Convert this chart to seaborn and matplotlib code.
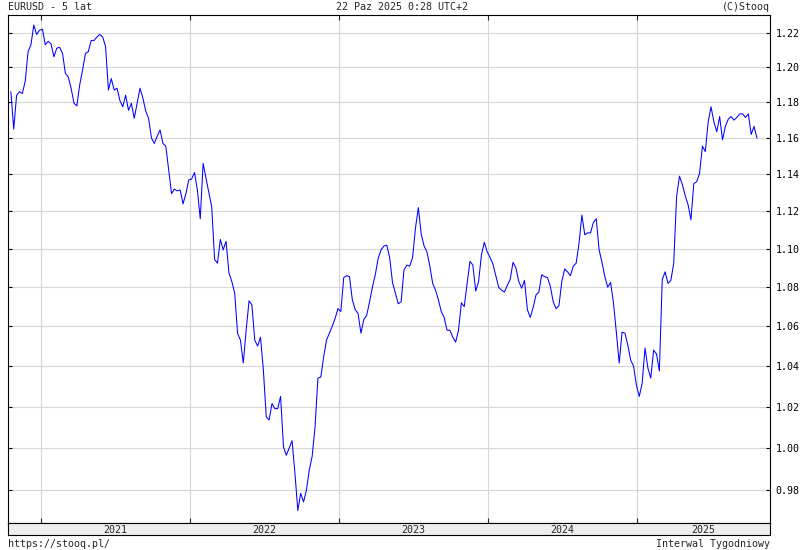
import numpy as np
import pandas as pd
import seaborn as sns
import matplotlib.pyplot as plt
import matplotlib.ticker as mticker

# %%
######################## EURUSD weekly closes ############
close = [1.186, 1.165, 1.184, 1.186, 1.185, 1.192, 1.209, 1.213, 1.2245, 1.219,
         1.2215, 1.222, 1.213, 1.215, 1.2135, 1.206, 1.211, 1.2115, 1.208, 1.1965,
         1.1945, 1.188, 1.1795, 1.178, 1.190, 1.1985, 1.208, 1.209, 1.2155, 1.2155,
         1.2175, 1.219, 1.2175,
         1.212, 1.187, 1.1935, 1.187, 1.188, 1.181, 1.1775, 1.184, 1.1755, 1.1795,
         1.171, 1.1795, 1.188, 1.1825, 1.175, 1.171, 1.160, 1.157, 1.161, 1.1645,
         1.157, 1.1555, 1.1425, 1.1295, 1.132, 1.131, 1.1315, 1.124, 1.1295, 1.137,
         1.1375, 1.141, 1.1315, 1.116,
         1.146, 1.138, 1.130, 1.1225, 1.0945, 1.0925, 1.105, 1.0995, 1.104, 1.0875,
         1.083, 1.077, 1.0565, 1.053, 1.0415, 1.058, 1.073, 1.071, 1.053, 1.050,
         1.0545, 1.038, 1.015, 1.0135, 1.0215, 1.019, 1.019, 1.025, 1.0005, 0.9965,
         1.000,
         1.0035, 0.988, 0.9705, 0.9785, 0.9745, 0.980, 0.9895, 0.996, 1.010, 1.034,
         1.0345, 1.0445, 1.053, 1.0565, 1.060, 1.064, 1.069, 1.0675, 1.085, 1.086,
         1.0855, 1.0735, 1.0685, 1.0665, 1.0565, 1.0635, 1.0655, 1.0725, 1.080, 1.0865,
         1.095,
         1.0995, 1.1015, 1.102, 1.0955, 1.0825, 1.077, 1.0715, 1.0725, 1.089, 1.0915,
         1.091, 1.0955, 1.111, 1.122, 1.108, 1.1015, 1.0985, 1.091, 1.082, 1.0785,
         1.0735, 1.0675, 1.0645, 1.058, 1.058, 1.0545, 1.052, 1.058, 1.072, 1.070,
         1.082, 1.0935,
         1.0915, 1.078, 1.083, 1.097, 1.1035, 1.0985, 1.0955, 1.092, 1.086, 1.080,
         1.0785, 1.0775, 1.081, 1.084, 1.093, 1.090, 1.083, 1.0795, 1.0835, 1.0685,
         1.0645, 1.0695, 1.076, 1.0775, 1.0865, 1.0855, 1.085, 1.0805, 1.0725, 1.069,
         1.0705,
         1.083, 1.0895, 1.088, 1.086, 1.091, 1.0925, 1.103, 1.118, 1.1075, 1.1085,
         1.1085, 1.114, 1.116, 1.0995, 1.093, 1.0855, 1.080, 1.0825, 1.072, 1.057,
         1.0415, 1.057, 1.0565, 1.0505, 1.043, 1.040, 1.0305, 1.025, 1.0315, 1.049,
         1.039,
         1.034, 1.048, 1.046, 1.0375, 1.084, 1.088, 1.082, 1.0835, 1.0925, 1.128,
         1.139, 1.1345, 1.1285, 1.1235, 1.1155, 1.135, 1.136, 1.1405, 1.1555, 1.1525,
         1.169, 1.1775, 1.169, 1.1635, 1.172, 1.159, 1.1665, 1.1705, 1.172, 1.170,
         1.1715, 1.1735, 1.1735, 1.1715, 1.1735, 1.162, 1.1665, 1.160]

first_week = '2020-10-20'
last_week = '2025-10-22'
weeks = pd.date_range(first_week, last_week, periods=len(close))

price_ticks = [0.98, 1.00, 1.02, 1.04, 1.06, 1.08, 1.10, 1.12, 1.14, 1.16, 1.18, 1.20, 1.22]
years = [2021, 2022, 2023, 2024, 2025]

df = pd.DataFrame({'date': weeks, 'close': close})

# %%
######################## plot ################################################
sns.set_style('white')
plt.rcParams['font.family'] = ['DejaVu Sans Mono']

W, H = 800, 550
fig = plt.figure(figsize=(8, 5.5), dpi=100)
ax = fig.add_axes([8 / W, 27 / H, 762 / W, 508 / H])
band = fig.add_axes([8 / W, 15 / H, 762 / W, 12 / H])

x0, x1 = pd.Timestamp('2020-10-13'), pd.Timestamp('2025-11-23')

sns.lineplot(data=df, x='date', y='close', color='#0000ff', linewidth=0.75, ax=ax)

ax.set_yscale('log')
ax.set_ylim(0.9647, 1.2304)
ax.set_xlim(x0, x1)
ax.yaxis.set_major_locator(mticker.FixedLocator(price_ticks))
ax.yaxis.set_minor_locator(mticker.NullLocator())
ax.yaxis.set_major_formatter(mticker.FormatStrFormatter('%.2f'))
year_starts = [pd.Timestamp(f'{y}-01-01') for y in years]
ax.set_xticks(year_starts)
ax.xaxis.set_minor_locator(mticker.NullLocator())

ax.tick_params(axis='y', left=True, right=True, labelleft=False, labelright=True,
               direction='in', length=3, width=0.8, labelsize=7.2, pad=4, colors='black')
ax.tick_params(axis='x', top=True, bottom=True, labelbottom=False,
               direction='in', length=3.5, width=0.8)
ax.grid(True, color='#d6d6d6', linewidth=0.8)
ax.set_xlabel('')
ax.set_ylabel('')
for s in ax.spines.values():
    s.set_color('black')
    s.set_linewidth(0.8)

# year band under the chart
band.set_facecolor('#eeeeee')
band.set_xlim(x0, x1)
band.set_ylim(0, 1)
band.set_xticks([])
band.set_yticks([])
for s in band.spines.values():
    s.set_color('black')
    s.set_linewidth(0.8)
for y in years:
    a = max(pd.Timestamp(f'{y}-01-01'), x0)
    b = min(pd.Timestamp(f'{y + 1}-01-01'), x1)
    band.text(a + (b - a) / 2, 0.45, str(y), ha='center', va='center', fontsize=7.2)

# header / footer texts
fig.text(8 / W, 1 - 7 / H, 'EURUSD - 5 lat', ha='left', va='center', fontsize=7.2)
fig.text(402 / W, 1 - 7 / H, '22 Paz 2025 0:28 UTC+2', ha='center', va='center', fontsize=7.2)
fig.text(770 / W, 1 - 7 / H, '(C)Stooq', ha='right', va='center', fontsize=7.2)
fig.text(8 / W, 1 - 544 / H, 'https://stooq.pl/', ha='left', va='center', fontsize=7.2)
fig.text(770 / W, 1 - 544 / H, 'Interwal Tygodniowy', ha='right', va='center', fontsize=7.2)

fig.savefig('out.png', dpi=100)
